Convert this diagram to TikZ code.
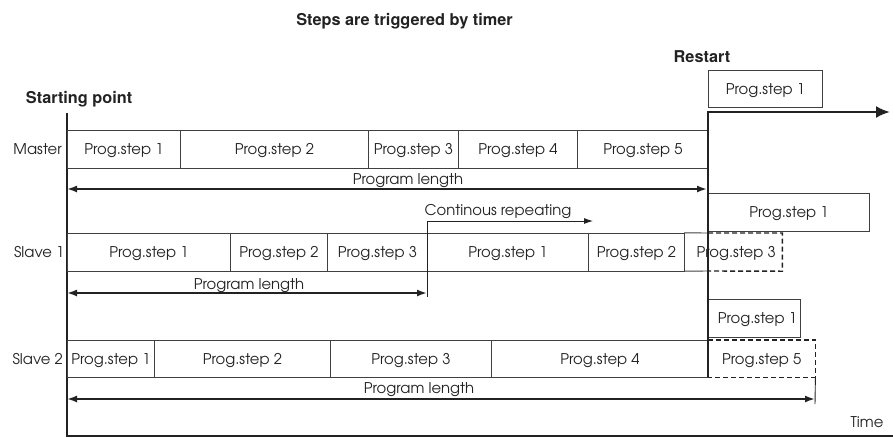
\documentclass[tikz,border=0pt]{standalone}
\usepackage{fontspec}
\setmainfont{TeX Gyre Adventor}
\newfontfamily\herosfont{TeX Gyre Heros}
\usetikzlibrary{arrows.meta}
\definecolor{ink}{HTML}{222222}
\definecolor{boxline}{HTML}{404040}
\begin{document}
\begin{tikzpicture}[x=1pt,y=-1pt,
  every node/.style={text=ink, font=\fontsize{14.8}{16}\selectfont},
  cell/.style={draw=boxline, line width=0.9pt, rectangle, inner sep=0pt,
    minimum height=38pt, anchor=west, text height=11pt, text depth=0pt},
  bare/.style={rectangle, inner sep=0pt, minimum height=38pt, anchor=west,
    text height=11pt, text depth=0pt},
  boldlabel/.style={font=\herosfont\bfseries\fontsize{16.3}{18}\selectfont, inner sep=0pt},
  lbl/.style={inner sep=0pt},
  plen/.style={draw=ink, line width=1.8pt, {Latex[length=10pt,width=7pt]}-{Latex[length=10pt,width=7pt]}},
  plenr/.style={draw=ink, line width=1.8pt, -{Latex[length=10pt,width=7pt]}},
  axisline/.style={draw=ink, line width=1.3pt},
  restartline/.style={draw=ink, line width=2.4pt, -{Latex[length=14pt,width=12pt]}},
  dashline/.style={draw=ink, line width=1.4pt, dash pattern=on 5pt off 3pt},
  thinarrow/.style={draw=ink, line width=0.9pt, -{Latex[length=9pt,width=6pt]}},
  tickline/.style={draw=ink, line width=0.9pt}
]
\useasboundingbox (0,0) rectangle (893,437);

% titles
\node[boldlabel, anchor=base] (title) at (404.5,25) {Steps are triggered by timer};
\node[boldlabel, anchor=base] (restart) at (702,62) {Restart};
\node[boldlabel, anchor=base west] (start) at (25.7,103) {Starting point};

% axes
\coordinate (ax0) at (67,113);
\coordinate (ax1) at (67,436);
\coordinate (ax2) at (893,436);
\draw[axisline] (ax0) -- (ax1) -- (ax2);
\node[lbl, anchor=base] (time) at (867,427) {Time};

% row labels
\node[lbl, anchor=base east] (lmaster) at (62,154.5) {Master};
\node[lbl, anchor=base east] (lslave1) at (64.5,257.5) {Slave 1};
\node[lbl, anchor=base east] (lslave2) at (63,364) {Slave 2};

% Master row (y 130-168)
\node[cell, minimum width=113pt] (m1) at (67,149) {Prog.step 1};
\node[cell, minimum width=188pt] (m2) at (180,149) {Prog.step 2};
\node[cell, minimum width=90pt]  (m3) at (368,149) {Prog.step 3};
\node[cell, minimum width=119pt] (m4) at (458,149) {Prog.step 4};
\node[cell, minimum width=131pt] (m5) at (577,149) {Prog.step 5};

% Master program length
\coordinate (pm0) at (67,189);
\coordinate (pm1) at (707,189);
\draw[plen] (pm0) -- (pm1);
\node[lbl, anchor=base] (plm) at (408,184) {Program length};

% Slave 1 row (y 233-271)
\node[cell, minimum width=163pt] (a1) at (67,252) {Prog.step 1};
\node[cell, minimum width=97pt]  (a2) at (230,252) {Prog.step 2};
\node[cell, minimum width=100pt] (a3) at (327,252) {Prog.step 3};
\node[cell, minimum width=161pt] (a4) at (427,252) {Prog.step 1};
\node[cell, minimum width=96pt]  (a5) at (588,252) {Prog.step 2};
\node[bare, minimum width=98pt]  (a6) at (684,252) {\hspace{6pt}Prog.step 3};
\coordinate (a6t) at (708,233);
\coordinate (a6b) at (708,271);
\draw[draw=boxline, line width=0.9pt] (a6.north west) -- (a6t);
\draw[draw=boxline, line width=0.9pt] (a6.south west) -- (a6b);
\draw[dashline] (a6t) -| (a6.south east) -- (a6b);

% continuous repeating
\coordinate (cr0) at (427,297);
\coordinate (cr1) at (427,221);
\coordinate (cr2) at (593,221);
\draw[thinarrow] (cr0) -- (cr1) -- (cr2);
\node[lbl, anchor=base] (crl) at (498,215) {Continous repeating};

% Slave 1 program length
\coordinate (pa0) at (67,293);
\coordinate (pa1) at (427,293);
\draw[plen] (pa0) -- (pa1);
\node[lbl, anchor=base] (pla) at (249,289) {Program length};

% Slave 2 row (y 340-377)
\node[cell, minimum height=37pt, minimum width=87pt]  (b1) at (67,358.5) {Prog.step 1};
\node[cell, minimum height=37pt, minimum width=176pt] (b2) at (154,358.5) {Prog.step 2};
\node[cell, minimum height=37pt, minimum width=161pt] (b3) at (330,358.5) {Prog.step 3};
\node[cell, minimum height=37pt, minimum width=217pt] (b4) at (491,358.5) {Prog.step 4};
\node[bare, minimum height=37pt, minimum width=107pt] (b5) at (708,358.5) {Prog.step 5};
\draw[dashline] (b5.north west) -| (b5.south east) -- (b5.south west);

% Slave 2 program length
\coordinate (pb0) at (67,399);
\coordinate (pb1) at (815,399);
\coordinate (pbt) at (815,404);
\draw[tickline] (b5.south east) -- (pbt);
\draw[plen] (pb0) -- (pb1);
\node[lbl, anchor=base] (plb) at (419,393) {Program length};

% restart boxes
\node[cell, minimum height=37pt, minimum width=114pt] (r0) at (708,89) {Prog.step 1};
\node[cell, minimum width=161pt] (r1) at (708,212) {Prog.step 1};
\node[cell, minimum height=38pt, minimum width=92pt, text height=11pt] (r2) at (708,318) {\hspace{6pt}Prog.step 1};

% restart line
\coordinate (rbot) at (708,377);
\coordinate (rtop) at (708,112);
\coordinate (rend) at (890,112);
\draw[restartline] (rbot) -- (rtop) -- (rend);
\end{tikzpicture}
\end{document}
